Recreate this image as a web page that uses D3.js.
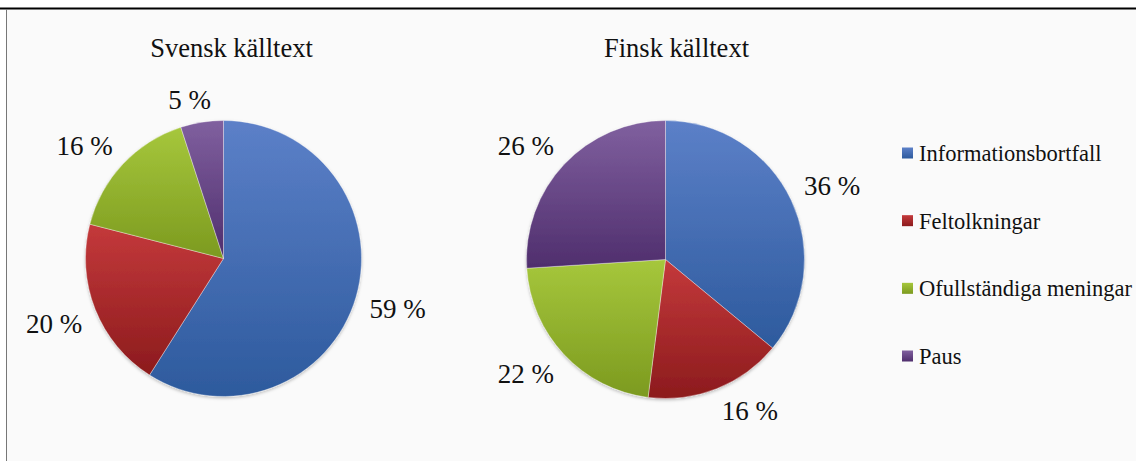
<!DOCTYPE html>
<html>
<head>
<meta charset="utf-8">
<script src="https://cdn.jsdelivr.net/npm/d3@7"></script>
<style>
  body { margin: 0; background: #fff; }
  svg { display: block; }
  svg text { font-family: 'Liberation Serif', 'Times New Roman', Tinos, 'DejaVu Serif', serif; }
</style>
</head>
<body>
<svg width="1136" height="461"></svg>
<script>
const categories = ['Informationsbortfall', 'Feltolkningar', 'Ofullständiga meningar', 'Paus'];
const svenskValues = [59, 20, 16, 5];
const finskValues = [36, 16, 22, 26];
const chartTitles = ['Svensk källtext', 'Finsk källtext'];

const colorsTop = ['#5c80c8', '#c4393b', '#a6c73c', '#80609f'];
const colorsBottom = ['#2d5a9d', '#8c1b1d', '#7c9a1f', '#4f2e6d'];

const svg = d3.select('svg');
const W = 1136, H = 461;

// background + frame
svg.append('rect').attr('x', 7).attr('y', 9).attr('width', W - 7).attr('height', H - 9).attr('fill', '#fafafa');
svg.append('line').attr('x1', 0).attr('x2', W).attr('y1', 8.5).attr('y2', 8.5)
    .attr('stroke', '#000').attr('stroke-width', 2);
svg.append('line').attr('x1', 6.5).attr('x2', 6.5).attr('y1', 9).attr('y2', H)
    .attr('stroke', '#777').attr('stroke-width', 1);

const defs = svg.append('defs');
categories.forEach((c, i) => {
  const g = defs.append('linearGradient').attr('id', 'grad' + i)
      .attr('x1', 0).attr('y1', 0).attr('x2', 0).attr('y2', 1);
  g.append('stop').attr('offset', '0%').attr('stop-color', colorsTop[i]);
  g.append('stop').attr('offset', '100%').attr('stop-color', colorsBottom[i]);
});
const shadow = defs.append('filter').attr('id', 'shadow')
    .attr('x', '-10%').attr('y', '-10%').attr('width', '120%').attr('height', '120%');
shadow.append('feDropShadow').attr('dx', 0).attr('dy', 1.5).attr('stdDeviation', 1.5)
    .attr('flood-color', '#000').attr('flood-opacity', 0.25);

const pie = d3.pie().sort(null).value(d => d);

const charts = [
  {values: svenskValues, title: chartTitles[0], cx: 223.5, cy: 258.5, r: 138, tx: 231.5},
  {values: finskValues, title: chartTitles[1], cx: 665.5, cy: 259.5, r: 139, tx: 676.5}
];

const clamp = v => Math.max(-1, Math.min(1, v));

charts.forEach(ch => {
  const g = svg.append('g').attr('transform', `translate(${ch.cx},${ch.cy})`);
  const arc = d3.arc().innerRadius(0).outerRadius(ch.r);
  const arcs = pie(ch.values);

  const slices = g.append('g').attr('filter', 'url(#shadow)');
  slices.selectAll('path')
      .data(arcs)
      .join('path')
      .attr('d', arc)
      .attr('fill', (d, i) => `url(#grad${i})`)
      .attr('stroke', 'rgba(255,255,255,0.45)')
      .attr('stroke-width', 0.8);

  // label box corner nearest the centre sits on the slice mid ray
  const R = ch.r + 14;
  g.selectAll('text.lbl')
      .data(arcs)
      .join('text')
      .attr('class', 'lbl')
      .attr('font-size', 27)
      .attr('fill', '#111')
      .attr('text-anchor', 'middle')
      .attr('dy', '0.35em')
      .text(d => d.data + ' %')
      .each(function(d) {
        const a = (d.startAngle + d.endAngle) / 2;
        const sx = Math.sin(a), sy = -Math.cos(a);
        const hw = this.getComputedTextLength() / 2;
        const hh = 9;
        d3.select(this)
            .attr('x', R * sx + hw * clamp(sx * 3))
            .attr('y', R * sy + hh * clamp(sy * 3));
      });

  svg.append('text')
      .attr('x', ch.tx)
      .attr('y', 57)
      .attr('text-anchor', 'middle')
      .attr('font-size', 26.5)
      .attr('fill', '#111')
      .text(ch.title);
});

// legend
const legendY = d3.scalePoint().domain(categories).range([153, 356]);
const legend = svg.append('g').selectAll('g')
    .data(categories)
    .join('g')
    .attr('transform', d => `translate(902,${legendY(d)})`);
legend.append('rect')
    .attr('x', 0).attr('y', -5.5).attr('width', 11).attr('height', 11)
    .attr('fill', (d, i) => `url(#grad${i})`);
legend.append('text')
    .attr('x', 17)
    .attr('y', 0)
    .attr('dy', '0.35em')
    .attr('font-size', 22.5)
    .attr('fill', '#111')
    .text(d => d);
</script>
</body>
</html>
